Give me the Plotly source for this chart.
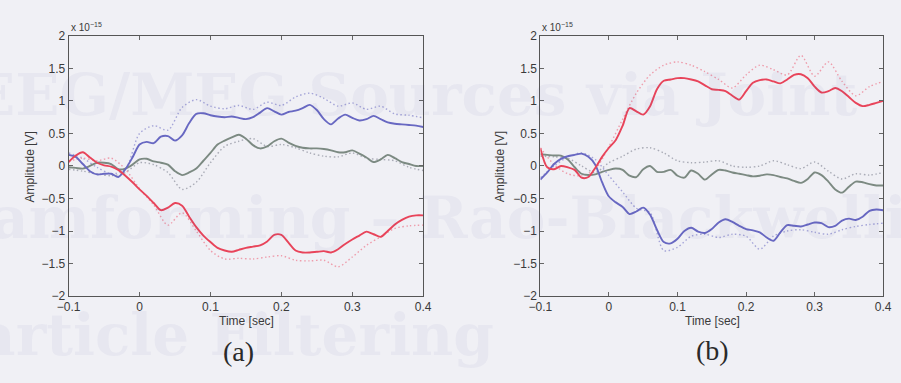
import plotly.graph_objects as go

# ---------------- data (amplitudes in units of 1e-15 V) ----------------
time_fine = [round(-0.1 + 0.01 * i, 2) for i in range(51)]
time_coarse = [round(-0.1 + 0.02 * i, 2) for i in range(26)]

# panel (a)
a_red = [0.06, 0.16, 0.21, 0.13, 0.05, 0.01, -0.01, -0.06, -0.15, -0.25,
         -0.36, -0.46, -0.57, -0.68, -0.64, -0.57, -0.61, -0.78, -0.94, -1.07,
         -1.17, -1.26, -1.30, -1.32, -1.29, -1.26, -1.24, -1.22, -1.16, -1.06,
         -1.06, -1.18, -1.30, -1.33, -1.33, -1.32, -1.31, -1.33, -1.28, -1.20,
         -1.13, -1.07, -1.01, -1.05, -1.09, -1.00, -0.90, -0.83, -0.78, -0.76,
         -0.76]
a_blue = [0.17, 0.14, 0.03, -0.08, -0.13, -0.12, -0.12, -0.17, -0.05, 0.13,
          0.33, 0.37, 0.35, 0.45, 0.46, 0.39, 0.47, 0.66, 0.80, 0.81,
          0.78, 0.76, 0.75, 0.76, 0.74, 0.72, 0.75, 0.82, 0.89, 0.84,
          0.79, 0.83, 0.85, 0.89, 0.94, 0.86, 0.72, 0.64, 0.73, 0.79,
          0.74, 0.70, 0.72, 0.77, 0.72, 0.67, 0.65, 0.64, 0.63, 0.62,
          0.60]
a_gray = [-0.02, -0.03, -0.04, 0.00, 0.05, 0.05, 0.03, -0.05, -0.04, 0.02,
          0.10, 0.11, 0.07, 0.05, 0.02, -0.08, -0.14, -0.10, -0.04, 0.08,
          0.20, 0.33, 0.39, 0.44, 0.48, 0.42, 0.32, 0.27, 0.30, 0.38,
          0.42, 0.36, 0.31, 0.28, 0.27, 0.27, 0.26, 0.24, 0.21, 0.21,
          0.24, 0.19, 0.13, 0.06, 0.10, 0.17, 0.12, 0.06, 0.03, 0.00,
          0.00]
a_red_dot = [0.07, 0.12, 0.08, 0.12, -0.05, -0.35, -0.60, -0.91, -0.72, -1.00,
             -1.30, -1.43, -1.42, -1.43, -1.40, -1.38, -1.45, -1.46, -1.45, -1.55,
             -1.40, -1.22, -1.09, -0.96, -0.92, -0.91]
a_blue_dot = [0.20, 0.12, -0.02, -0.12, -0.05, 0.50, 0.62, 0.55, 0.90, 1.02,
              0.92, 0.88, 0.93, 0.87, 0.98, 0.93, 1.06, 1.12, 1.04, 0.92,
              0.97, 0.87, 0.92, 0.80, 0.78, 0.74]
a_gray_dot = [-0.05, -0.08, -0.12, -0.15, -0.10, 0.05, 0.02, -0.10, -0.36, -0.25,
              0.05, 0.30, 0.38, 0.42, 0.30, 0.33, 0.28, 0.20, 0.15, 0.14,
              0.20, 0.12, 0.10, 0.08, -0.02, -0.07]

# panel (b)
b_red = [0.27, -0.02, -0.05, 0.00, -0.02, -0.06, -0.18, -0.17, -0.03, 0.14,
         0.28, 0.40, 0.62, 0.89, 0.84, 0.79, 0.92, 1.18, 1.31, 1.33,
         1.35, 1.35, 1.33, 1.30, 1.24, 1.18, 1.17, 1.15, 1.08, 1.02,
         1.15, 1.28, 1.32, 1.33, 1.30, 1.27, 1.33, 1.40, 1.41, 1.35,
         1.22, 1.13, 1.15, 1.20, 1.15, 1.06, 0.97, 0.92, 0.94, 0.97,
         1.00]
b_blue = [-0.21, -0.10, 0.03, 0.11, 0.15, 0.17, 0.19, 0.14, 0.02, -0.25,
          -0.47, -0.56, -0.63, -0.74, -0.70, -0.64, -0.75, -0.98, -1.17, -1.19,
          -1.12, -1.00, -0.95, -1.01, -1.03, -0.97, -0.87, -0.82, -0.86, -0.92,
          -0.97, -0.99, -1.02, -1.10, -1.15, -1.02, -0.91, -0.92, -0.93, -0.90,
          -0.87, -0.88, -0.94, -0.92, -0.84, -0.81, -0.83, -0.78, -0.69, -0.67,
          -0.68]
b_gray = [0.18, 0.17, 0.16, 0.16, 0.10, -0.02, -0.12, -0.14, -0.13, -0.09,
          -0.06, -0.04, -0.06, -0.15, -0.17, -0.05, 0.00, -0.09, -0.09, -0.06,
          -0.15, -0.18, -0.07, -0.12, -0.21, -0.13, -0.06, -0.07, -0.10, -0.12,
          -0.14, -0.16, -0.15, -0.13, -0.14, -0.17, -0.19, -0.23, -0.26, -0.20,
          -0.10, -0.14, -0.24, -0.36, -0.41, -0.32, -0.24, -0.25, -0.28, -0.30,
          -0.30]
b_red_dot = [0.28, 0.02, -0.12, -0.15, -0.05, 0.30, 0.72, 1.12, 1.40, 1.55,
             1.60, 1.55, 1.45, 1.33, 1.20, 1.40, 1.55, 1.48, 1.40, 1.70,
             1.38, 1.60, 1.30, 1.08, 1.22, 1.30]
b_blue_dot = [-0.18, 0.00, 0.14, 0.20, 0.10, -0.15, -0.40, -0.65, -0.72, -1.30,
              -1.25, -1.08, -1.05, -1.10, -1.05, -1.08, -1.28, -1.08, -1.00, -0.98,
              -1.02, -1.05, -0.98, -0.93, -0.90, -0.88]
b_gray_dot = [0.15, 0.14, 0.12, 0.00, -0.10, 0.05, 0.15, 0.26, 0.28, 0.20,
              0.08, 0.05, 0.06, 0.08, 0.00, -0.02, 0.00, 0.08, 0.02, -0.04,
              0.06, -0.08, -0.20, -0.12, -0.14, -0.10]

x_ticks = [-0.1, 0, 0.1, 0.2, 0.3, 0.4]
x_ticktext = ["\u22120.1", "0", "0.1", "0.2", "0.3", "0.4"]
y_ticks = [-2, -1.5, -1, -0.5, 0, 0.5, 1, 1.5, 2]
y_ticktext = ["\u22122", "\u22121.5", "\u22121", "\u22120.5", "0", "0.5", "1", "1.5", "2"]

# ---------------- styling ----------------
W, H = 901, 383
def px(x):
    return x / W
def py(y):
    return 1 - y / H

RED, BLUE, GRAY = "#e8445a", "#6868c2", "#7c8a82"
RED_D, BLUE_D, GRAY_D = "#ee9cab", "#a5a5d8", "#a9abb6"

fig = go.Figure()

panels = [
    ("x", "y", a_red, a_blue, a_gray, a_red_dot, a_blue_dot, a_gray_dot),
    ("x2", "y2", b_red, b_blue, b_gray, b_red_dot, b_blue_dot, b_gray_dot),
]
for xa, ya, r, b, g, rd, bd, gd in panels:
    for vals, col in ((gd, GRAY_D), (bd, BLUE_D), (rd, RED_D)):
        fig.add_trace(go.Scatter(x=time_coarse, y=vals, xaxis=xa, yaxis=ya, mode="lines",
                                 line=dict(color=col, width=1.4, dash="1.5px,2.5px",
                                           shape="spline", smoothing=0.8),
                                 showlegend=False, hoverinfo="skip"))
    for vals, col in ((g, GRAY), (b, BLUE), (r, RED)):
        fig.add_trace(go.Scatter(x=time_fine, y=vals, xaxis=xa, yaxis=ya, mode="lines",
                                 line=dict(color=col, width=1.9, shape="spline", smoothing=0.8),
                                 showlegend=False, hoverinfo="skip"))

tickfont = dict(family="Liberation Sans, Arial, sans-serif", size=12, color="#3a3a3a")
axis_common = dict(showline=True, linecolor="#555555", linewidth=1, mirror="allticks",
                   ticks="inside", ticklen=4, tickcolor="#666666", showgrid=False,
                   zeroline=False, tickfont=tickfont, fixedrange=True)

y_dom = [py(300), py(30)]
fig.update_layout(
    width=W, height=H,
    margin=dict(l=0, r=0, t=0, b=0),
    paper_bgcolor="#f0f0f5",
    plot_bgcolor="rgba(0,0,0,0)",
    xaxis=dict(domain=[px(58), px(421)], anchor="y", range=[-0.1, 0.4],
               tickvals=x_ticks, ticktext=x_ticktext, **axis_common),
    yaxis=dict(domain=y_dom, anchor="x", range=[-2, 2],
               tickvals=y_ticks, ticktext=y_ticktext, **axis_common),
    xaxis2=dict(domain=[px(541), px(892)], anchor="y2", range=[-0.1, 0.4],
                tickvals=x_ticks, ticktext=x_ticktext, **axis_common),
    yaxis2=dict(domain=y_dom, anchor="x2", range=[-2, 2],
                tickvals=y_ticks, ticktext=y_ticktext, **axis_common),
)

ann = []
# faint show-through text from the reverse page of the scan
bleed = dict(family="DejaVu Serif, serif", size=58, color="rgba(80,80,160,0.05)")
ann.append(dict(x=px(-44), y=py(129), xref="paper", yref="paper", xanchor="left",
                yanchor="bottom", showarrow=False,
                text="<b>EEG/MEG Sources via Joint</b>", font=bleed))
ann.append(dict(x=px(-112), y=py(256), xref="paper", yref="paper", xanchor="left",
                yanchor="bottom", showarrow=False,
                text="<b>Beamforming \u2013 Rao-Blackwellised</b>", font=bleed))
ann.append(dict(x=px(-80), y=py(378), xref="paper", yref="paper", xanchor="left",
                yanchor="bottom", showarrow=False,
                text="<b>Particle Filtering</b>", font=bleed))

labfont = dict(family="Liberation Sans, Arial, sans-serif", size=12, color="#3a3a3a")
for x0, xc, yl in ((58, 240, 18), (541, 717, 500)):
    ann.append(dict(x=px(x0), y=py(21), xref="paper", yref="paper", xanchor="left",
                    yanchor="middle", showarrow=False,
                    text="x 10<sup>\u221215</sup>", font=dict(labfont, size=10)))
    ann.append(dict(x=px(xc), y=py(326), xref="paper", yref="paper", xanchor="center",
                    yanchor="middle", showarrow=False, text="Time [sec]", font=labfont))
    ann.append(dict(x=px(yl), y=py(166), xref="paper", yref="paper", xanchor="center",
                    yanchor="middle", showarrow=False, text="Amplitude [V]",
                    textangle=-90, font=labfont))

capfont = dict(family="Liberation Serif, DejaVu Serif, serif", size=28, color="#2a2a2a")
ann.append(dict(x=px(232), y=py(358), xref="paper", yref="paper", xanchor="center",
                yanchor="middle", showarrow=False, text="(a)", font=capfont))
ann.append(dict(x=px(717), y=py(357), xref="paper", yref="paper", xanchor="center",
                yanchor="middle", showarrow=False, text="(b)", font=capfont))

fig.update_layout(annotations=ann)
fig.write_html("out.html")
